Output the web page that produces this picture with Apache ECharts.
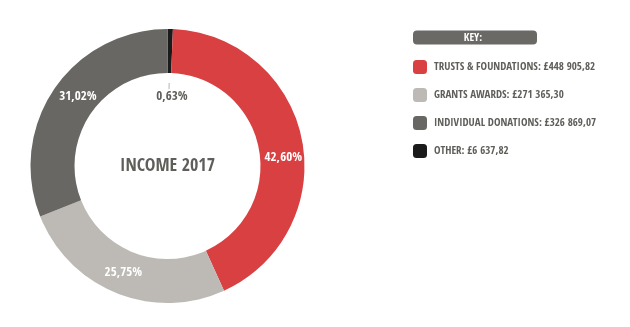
<!DOCTYPE html>
<html>
<head>
<meta charset="utf-8">
<script src="https://cdn.jsdelivr.net/npm/echarts@6/dist/echarts.min.js"></script>
<style>
  html, body { margin: 0; padding: 0; background: #fff; }
  #chart { width: 630px; height: 327px; }
</style>
</head>
<body>
<div id="chart"></div>
<script>
// Income sources, drawn clockwise from 12 o'clock
const categories = ['OTHER', 'TRUSTS & FOUNDATIONS', 'GRANTS AWARDS', 'INDIVIDUAL DONATIONS'];
const amounts = [6637.82, 448905.82, 271365.30, 326869.07];
const legendOrder = ['TRUSTS & FOUNDATIONS', 'GRANTS AWARDS', 'INDIVIDUAL DONATIONS', 'OTHER'];
const sliceColors = ['#1b1b1b', '#d94042', '#bdbab5', '#686763'];
const centreTitle = 'INCOME 2017';
const keyTitle = 'KEY:';

const FONT = '"Open Sans Condensed", "Roboto Condensed", sans-serif';
const TEXT_GREY = '#5f5e5a';
const CX = 167.5, CY = 166, R_IN = 93, R_OUT = 137;
// hand-tuned nudges for the percentage labels inside the ring
const LABEL_NUDGE = { 1: [0, 14], 2: [0, -3], 3: [8, -3] };

const total = amounts.reduce((a, b) => a + b, 0);
const pct = v => (v / total * 100).toFixed(2).replace('.', ',') + '%';
const money = v => {
  const [i, d] = v.toFixed(2).split('.');
  return '£' + i.replace(/\B(?=(\d{3})+(?!\d))/g, ' ') + ',' + d;
};

const data = categories.map((name, i) => ({
  name, value: amounts[i],
  itemStyle: { color: sliceColors[i] },
  label: { show: i !== 0 }
}));

// Hidden ring inside the hole that carries the label of the tiny slice
const innerData = categories.map((name, i) => ({
  name, value: amounts[i],
  itemStyle: { color: 'transparent' },
  label: { show: i === 0 }
}));

const chart = echarts.init(document.getElementById('chart'), null, { renderer: 'canvas' });

// small tick under the tiny slice, at its mid-angle
const otherMid = (amounts[0] / total) * Math.PI; // radians from 12 o'clock
const tick = (r) => [CX + r * Math.sin(otherMid), CY - r * Math.cos(otherMid)];
const t1 = tick(R_IN - 16), t2 = tick(R_IN - 10);

chart.setOption({
  animation: false,
  legend: {
    orient: 'vertical',
    left: 408,
    top: 55,
    data: legendOrder,
    icon: 'roundRect',
    itemWidth: 14,
    itemHeight: 14,
    itemGap: 14,
    selectedMode: false,
    formatter: name => name + ': ' + money(amounts[categories.indexOf(name)]),
    textStyle: { fontFamily: FONT, fontWeight: 'bold', fontSize: 11, color: TEXT_GREY, padding: [1, 0, 0, 2] }
  },
  graphic: [
    { type: 'rect', shape: { x: 413, y: 30.5, width: 124, height: 14, r: 4 }, style: { fill: '#6a6965' } },
    { type: 'text', x: 473, y: 38, style: { text: keyTitle, fill: '#fff', font: 'bold 11px ' + FONT, textAlign: 'center', textVerticalAlign: 'middle' } },
    { type: 'text', x: CX, y: CY, style: { text: centreTitle, fill: TEXT_GREY, font: 'bold 18px ' + FONT, textAlign: 'center', textVerticalAlign: 'middle' } },
    { type: 'line', shape: { x1: t1[0], y1: t1[1], x2: t2[0], y2: t2[1] }, style: { stroke: '#b5b3ae', lineWidth: 1 } }
  ],
  series: [
    {
      type: 'pie',
      center: [CX, CY],
      radius: [R_IN, R_OUT],
      startAngle: 90,
      clockwise: true,
      silent: true,
      data,
      label: {
        position: 'inside',
        formatter: p => pct(p.value),
        color: '#fff',
        fontFamily: FONT,
        fontWeight: 'bold',
        fontSize: 13
      },
      labelLine: { show: false },
      labelLayout: p => {
        const n = LABEL_NUDGE[p.dataIndex];
        return n ? { dx: n[0], dy: n[1] } : {};
      }
    },
    {
      type: 'pie',
      center: [CX, CY],
      radius: [R_IN - 46, R_IN - 2],
      startAngle: 90,
      clockwise: true,
      silent: true,
      data: innerData,
      label: {
        position: 'inside',
        formatter: p => pct(p.value),
        color: TEXT_GREY,
        fontFamily: FONT,
        fontWeight: 'bold',
        fontSize: 13
      },
      labelLine: { show: false },
      labelLayout: { dx: 3, dy: 3 }
    }
  ]
});
</script>
</body>
</html>
